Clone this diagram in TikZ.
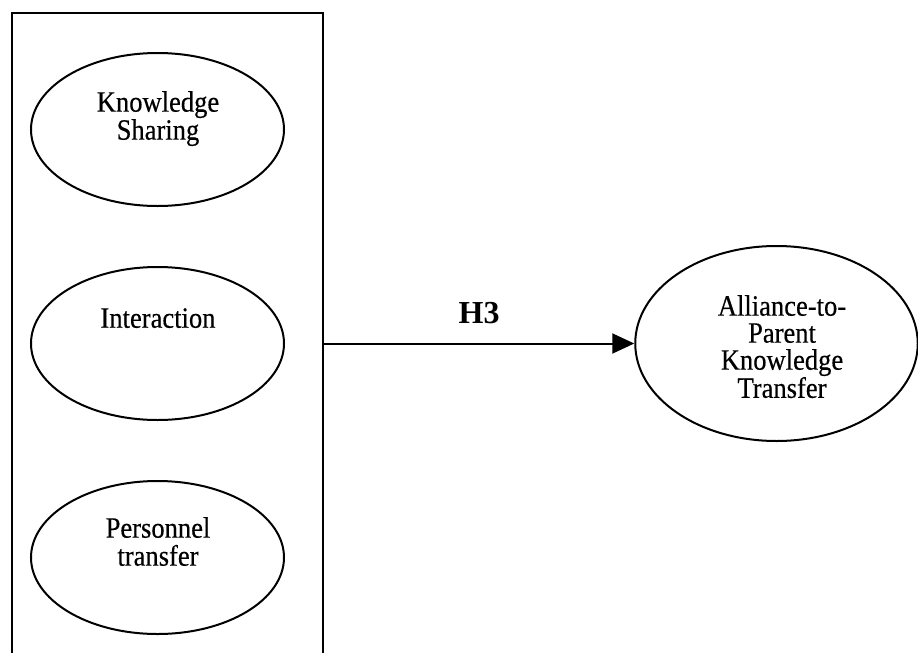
\documentclass[tikz,border=0pt]{standalone}
\usepackage{fontspec}
\setmainfont{Liberation Serif}[FakeStretch=0.9, FakeBold=0.4]
\newfontfamily\hypfont{Liberation Serif}
\usetikzlibrary{shapes.geometric,arrows.meta}

\begin{document}
\begin{tikzpicture}[x=1pt,y=-1pt,
  construct/.style={draw, ellipse, line width=2pt, inner sep=0pt},
  leftconstruct/.style={construct, minimum width=253pt, minimum height=153pt},
  lbl/.style={align=center, inner sep=0pt, anchor=north,
              font=\fontsize{29.5}{28}\selectfont},
  grouping/.style={draw, rectangle, line width=2pt, inner sep=0pt},
  link/.style={line width=2pt, -{Triangle[length=22pt,width=20pt]}},
  hyp/.style={inner sep=0pt, anchor=base,
              font=\hypfont\fontsize{32}{32}\selectfont\bfseries}]

  \useasboundingbox (0,0) rectangle (918,653);
  \clip (0,0) rectangle (918,653);

  % dimension box holding the three components (open at the bottom of the page)
  \node[grouping, minimum width=311pt, minimum height=687pt] (grp) at (167.5,356.5) {};

  % component constructs
  \node[leftconstruct] (ks) at (157.5,129.5) {};
  \node[leftconstruct] (ia) at (157.5,343.5) {};
  \node[leftconstruct] (pt) at (157.5,557.5) {};
  \node[lbl] (kslbl) at (158,91) {Knowledge\\Sharing};
  \node[lbl] (ialbl) at (158,308) {Interaction};
  \node[lbl] (ptlbl) at (158,517) {Personnel\\transfer};

  % outcome construct
  \node[construct, minimum width=282.5pt, minimum height=195pt] (apkt) at (776.5,343.5) {};
  \node[lbl, font=\fontsize{29.5}{27}\selectfont] (apktlbl) at (782,295)
    {Alliance-to-\\Parent\\Knowledge\\Transfer};

  % hypothesised path
  \draw[link] (ia -| grp.east) -- (apkt.west)
    node[hyp, pos=0.5, yshift=20.5pt] (h3) {H3};
\end{tikzpicture}
\end{document}
